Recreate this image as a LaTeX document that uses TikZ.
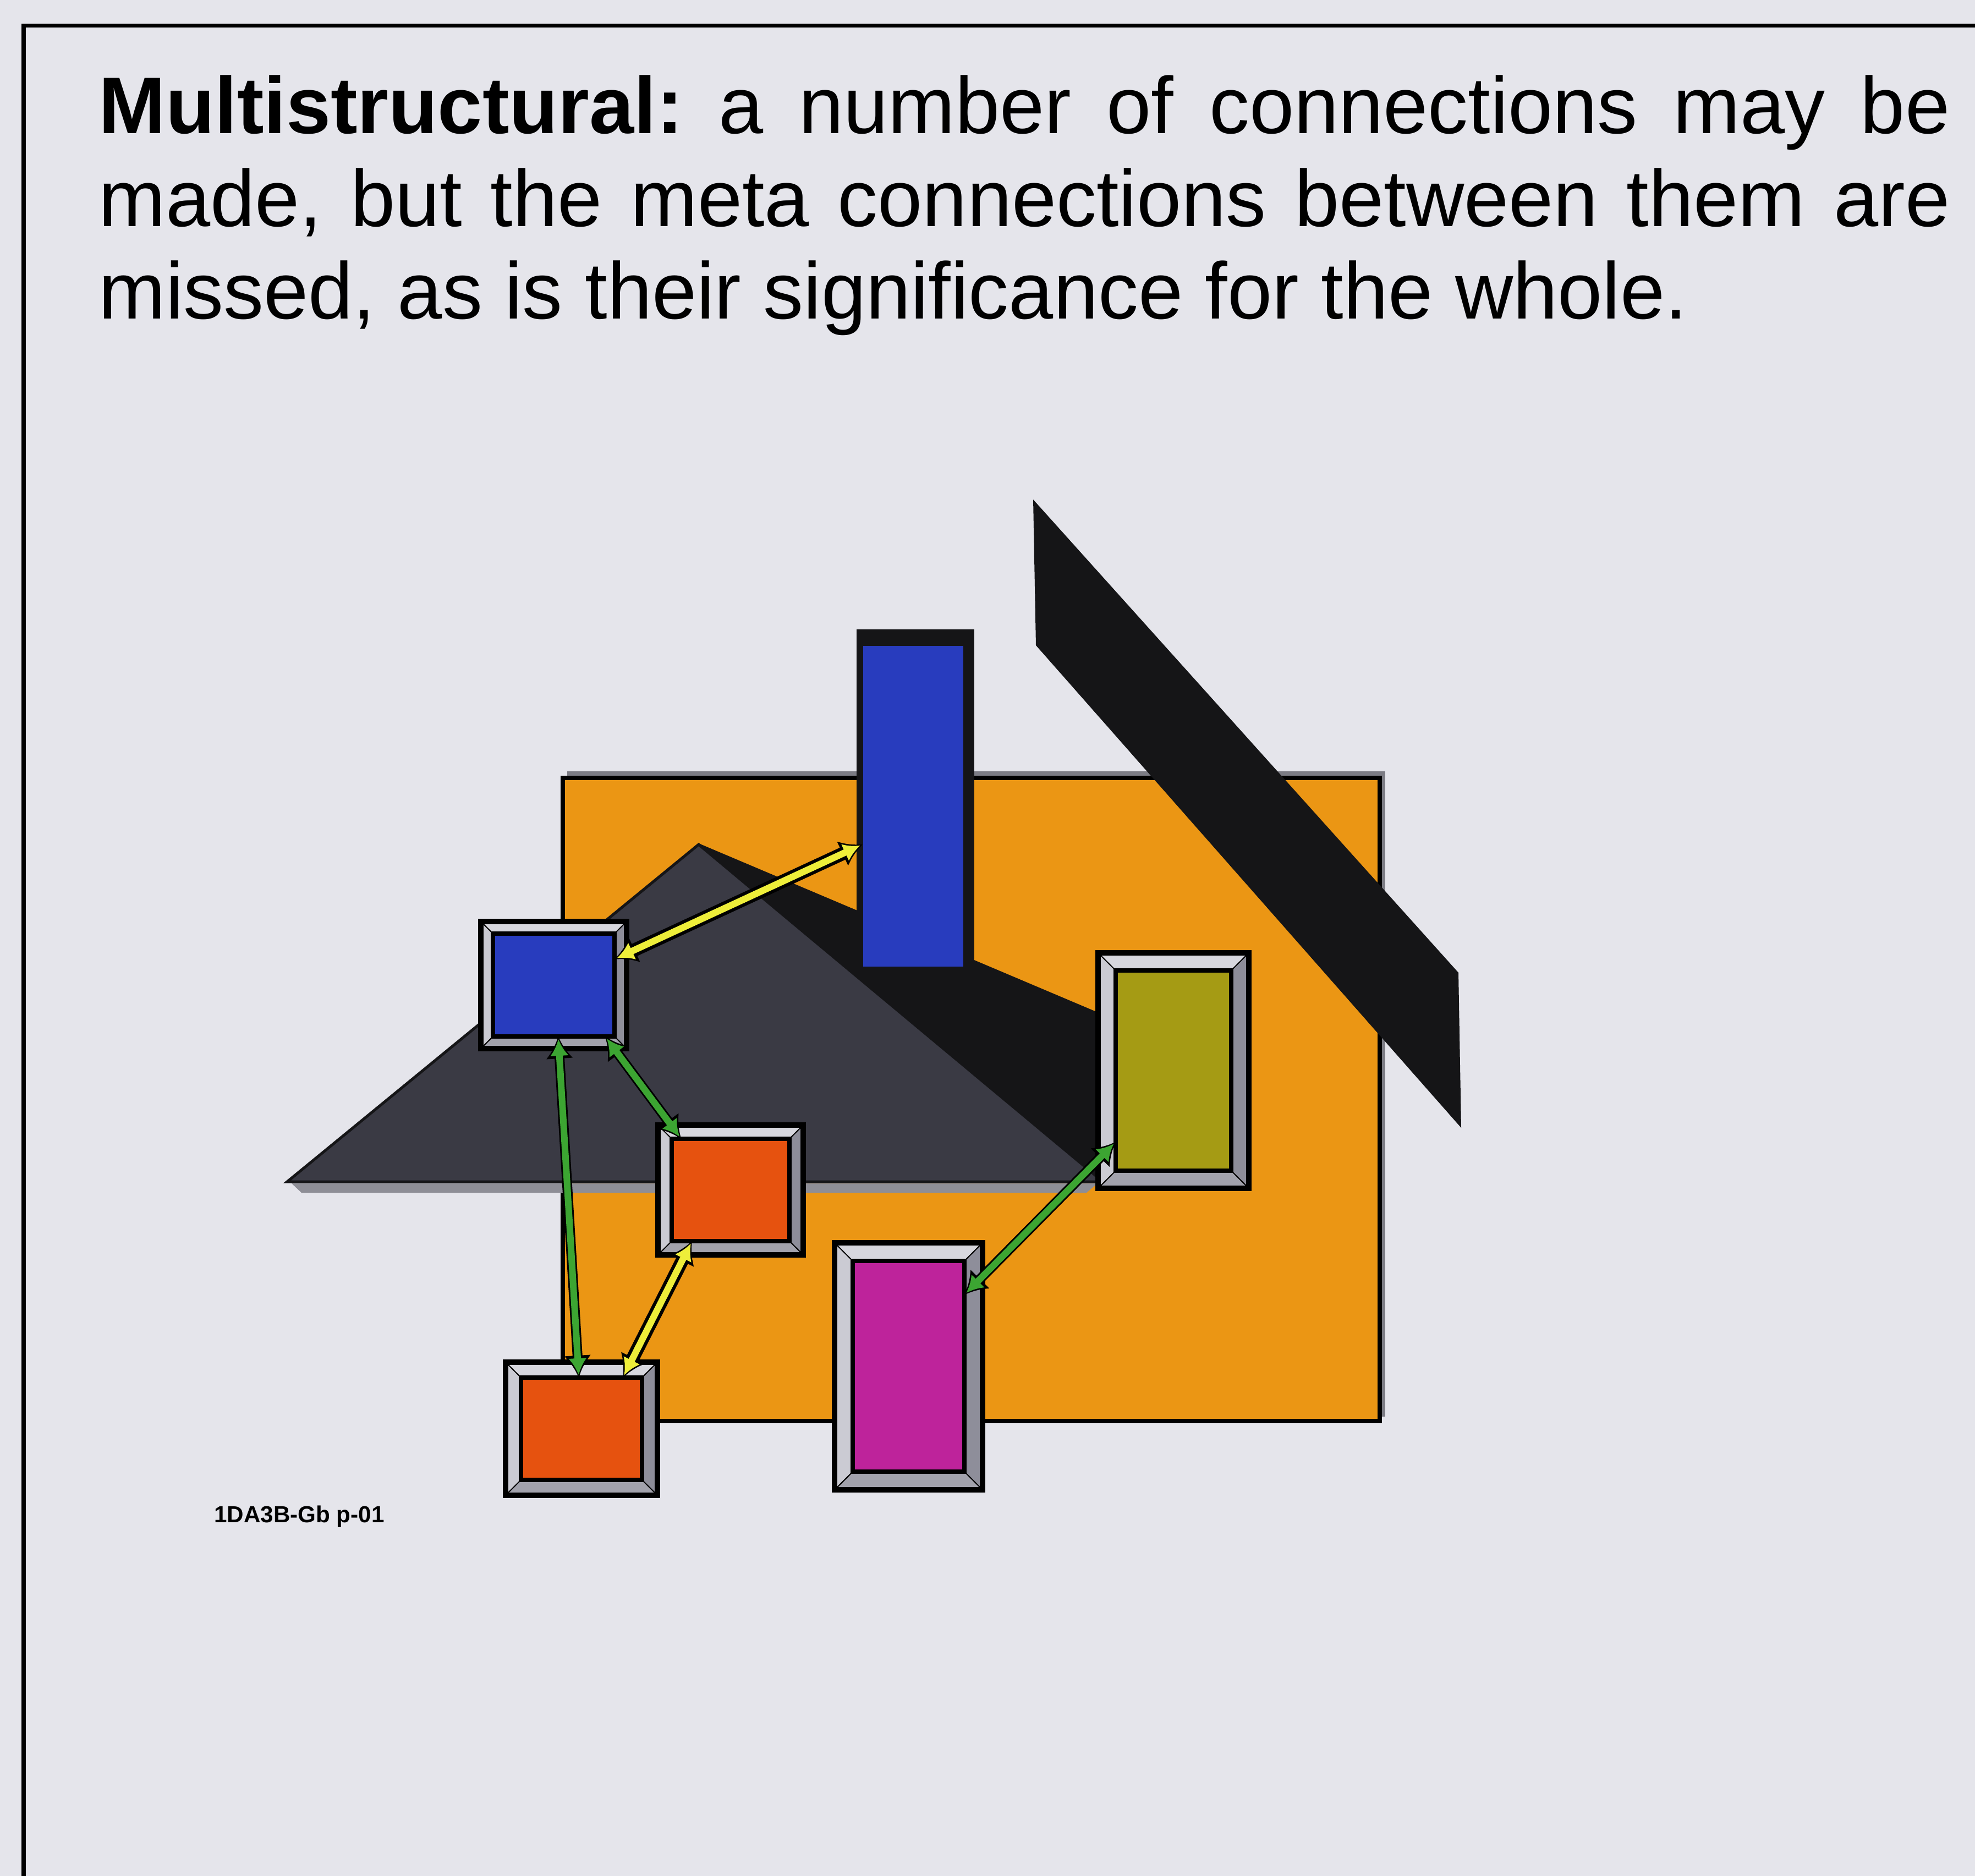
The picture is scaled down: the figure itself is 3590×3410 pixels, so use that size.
\documentclass[tikz,border=0pt]{standalone}
\usepackage{fontspec}
\setmainfont{Liberation Sans}
\usepackage{xcolor}
\definecolor{PaperBg}{HTML}{E5E5EB}
\definecolor{WallOrange}{HTML}{EB9614}
\definecolor{WallShadow}{HTML}{7C7C84}
\definecolor{RoofBlack}{HTML}{151517}
\definecolor{SlateGray}{HTML}{3A3A44}
\definecolor{RidgeGray}{HTML}{8E8E96}
\definecolor{ChimneyBlue}{HTML}{283CBE}
\definecolor{BrickOrange}{HTML}{E6520F}
\definecolor{DoorMagenta}{HTML}{BE239B}
\definecolor{WindowOlive}{HTML}{A59B14}
\definecolor{BevelLight}{HTML}{D7D7DE}
\definecolor{BevelSide}{HTML}{CBCBD3}
\definecolor{BevelDark}{HTML}{A2A2AC}
\definecolor{BevelShade}{HTML}{8E8E9A}
\definecolor{LinkYellow}{HTML}{EEEE3A}
\definecolor{LinkGreen}{HTML}{3CA532}
\usepackage{tikz}
\usetikzlibrary{arrows.meta}

% bevelled frame round a panel node: #1 node, #2 frame width
\newcommand{\bevel}[2]{%
  \coordinate (o1) at ([shift={(-#2,#2)}]#1.north west);
  \coordinate (o2) at ([shift={(#2,#2)}]#1.north east);
  \coordinate (o3) at ([shift={(#2,-#2)}]#1.south east);
  \coordinate (o4) at ([shift={(-#2,-#2)}]#1.south west);
  \fill[BevelLight] (o1) -- (o2) -- (#1.north east) -- (#1.north west) -- cycle;
  \fill[BevelSide] (o1) -- (#1.north west) -- (#1.south west) -- (o4) -- cycle;
  \fill[BevelDark] (o4) -- (#1.south west) -- (#1.south east) -- (o3) -- cycle;
  \fill[BevelShade] (o2) -- (o3) -- (#1.south east) -- (#1.north east) -- cycle;
  \draw[line width=0.02cm] (o1) -- (#1.north west) (o2) -- (#1.north east)
    (o3) -- (#1.south east) (o4) -- (#1.south west);
  \draw[line width=0.1cm] (o1) rectangle (o3);
  \draw[line width=0.08cm] (#1.north west) rectangle (#1.south east);
}

\begin{document}
\begin{tikzpicture}[x=0.01cm, y=-0.01cm,
  panel/.style={fill=#1, inner sep=0pt, outer sep=0pt},
  rim/.style={black, line width=#1, >={Latex[length=0.40cm,width=0.50cm]}, <->},
  link/.style={#1, line width=0.12cm, >={Latex[length=0.30cm,width=0.34cm]}, <->,
    shorten <=0.05cm, shorten >=0.05cm}]
  \useasboundingbox (0,0) rectangle (3590,3410);
  \fill[PaperBg] (0,0) rectangle (3590,3410);
  \draw[line width=0.07cm] (43,3410) -- (43,47) -- (3590,47);

  \node[anchor=base west, text width=33.63cm, align=justify, inner sep=0pt,
    font=\fontsize{41.5}{47.8}\selectfont\frenchspacing] (caption) at (179,243)
    {\textbf{Multistructural:} a number of connections may be\linebreak
     made, but the meta connections between them are\linebreak
     missed, as is their significance for the whole.};

  % wall, roof and ridge
  \fill[WallShadow] (1031,1402) rectangle (2518,2575);
  \filldraw[fill=WallOrange, line width=0.08cm] (1023,1414) rectangle (2508,2583);
  \fill[RoofBlack] (1878,908) -- (2651,1768) -- (2656,2050) -- (1883,1173) -- cycle;
  \fill[RoofBlack] (1270,1533) -- (1995,1840) -- (2005,2148) -- cycle;
  \filldraw[fill=SlateGray, draw=RoofBlack, line width=0.05cm]
    (522,2148) -- (1270,1535) -- (2005,2148) -- cycle;
  \fill[RidgeGray] (530,2151) -- (1995,2151) -- (1975,2168) -- (548,2168) -- cycle;

  \fill[RoofBlack] (1557,1144) rectangle (1771,1764);
  \node[panel=ChimneyBlue, draw=RoofBlack, line width=0.03cm,
    minimum width=1.84cm, minimum height=5.85cm] (chimney) at (1660,1465.5) {};

  \node[panel=ChimneyBlue, minimum width=2.21cm, minimum height=1.87cm] (topwin) at (1006.5,1790.5) {};
  \bevel{topwin}{0.22cm}
  \node[panel=BrickOrange, minimum width=2.14cm, minimum height=1.86cm] (midwin) at (1328,2163) {};
  \bevel{midwin}{0.25cm}
  \node[panel=BrickOrange, minimum width=2.20cm, minimum height=1.86cm] (lowwin) at (1057,2597) {};
  \bevel{lowwin}{0.28cm}
  \node[panel=DoorMagenta, minimum width=2.03cm, minimum height=3.83cm] (door) at (1651.5,2483.5) {};
  \bevel{door}{0.33cm}
  \node[panel=WindowOlive, minimum width=2.10cm, minimum height=3.64cm] (sidewin) at (2133,1946) {};
  \bevel{sidewin}{0.32cm}

  % connections
  \draw[rim=0.24cm] (topwin.23) -- (chimney.217);
  \draw[link=LinkYellow] (topwin.23) -- (chimney.217);
  \draw[rim=0.24cm] (midwin.233) -- (lowwin.51);
  \draw[link=LinkYellow] (midwin.233) -- (lowwin.51);
  \draw[rim=0.18cm] (topwin.-85) -- (lowwin.93);
  \draw[link=LinkGreen] (topwin.-85) -- (lowwin.93);
  \draw[rim=0.18cm] (topwin.-45) -- (midwin.134);
  \draw[link=LinkGreen] (topwin.-45) -- (midwin.134);
  \draw[rim=0.18cm] (sidewin.231) -- (door.52);
  \draw[link=LinkGreen] (sidewin.231) -- (door.52);

  \node[font=\bfseries\fontsize{12}{14}\selectfont, inner sep=0pt] (figid) at (544,2757) {1DA3B-Gb p-01};
\end{tikzpicture}
\end{document}
